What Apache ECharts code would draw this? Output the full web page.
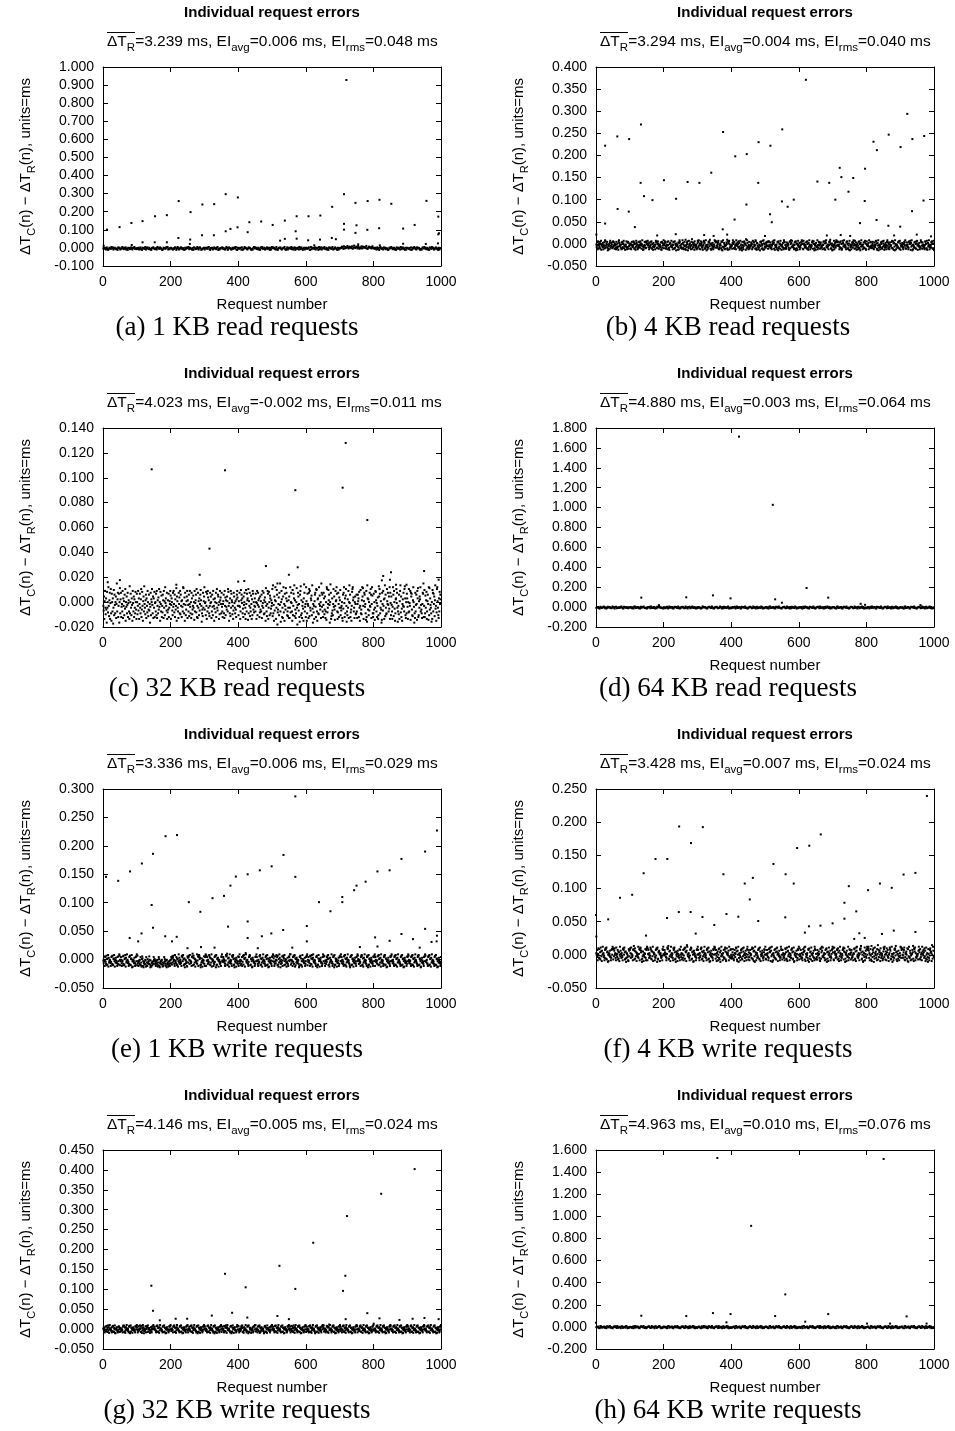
<!DOCTYPE html>
<html><head><meta charset="utf-8">
<script src="https://cdn.jsdelivr.net/npm/echarts@6/dist/echarts.min.js"></script>
<style>html,body{margin:0;padding:0;background:#fff}#c{width:955px;height:1431px}</style>
</head><body><div id="c"></div>
<script>
// ---------------- data ----------------
const captions = ['(a) 1 KB read requests','(b) 4 KB read requests','(c) 32 KB read requests','(d) 64 KB read requests',
                  '(e) 1 KB write requests','(f) 4 KB write requests','(g) 32 KB write requests','(h) 64 KB write requests'];
const dtR   = ['3.239','3.294','4.023','4.880','3.336','3.428','4.146','4.963'];
const eiAvg = ['0.006','0.004','-0.002','0.003','0.006','0.007','0.005','0.010'];
const eiRms = ['0.048','0.040','0.011','0.064','0.029','0.024','0.024','0.076'];
const yMin  = [-0.1,-0.05,-0.02,-0.2,-0.05,-0.05,-0.05,-0.2];
const yMax  = [1.0,0.4,0.14,1.8,0.3,0.25,0.45,1.6];
const yStep = [0.1,0.05,0.02,0.2,0.05,0.05,0.05,0.2];
const xTicks = [0,200,400,600,800,1000];

// dense error band around zero, one letter per request (a..z = level index, upper case = half level higher),
// read as base + level*step
const noiseBase   = [-0.023,-0.0158,-0.018,-0.029,-0.0148,-0.0118,-0.01165,-0.027];
const noiseStep   = [0.002,0.0012,0.0015,0.0025,0.0012,0.0012,0.0011,0.0025];
const noiseStride = [2,1,1,2,1,1,1,2];

const noiseA = [
"kmjlhnkgimljoknhlmjikgnlmhjkolimjnhkgmlijnkhmlojki","ljmhknigmlkjohlnkimjhglmnkijlhomkjnlighmkljnmohkil",
"mkihljnmgkolhjmnkilhgmjknloimkjhlgnmikjolhmnkgijlm","hlmkjnoiglkmhjnlkimogjhlkmnjlihkomgjnlkhimjlnkohgm",
"kjlmhngikomljhknmligjhmoknljimhkgnlojkmhilnjkmglho","lnkmjhoigkmlnjhklmoigjnhkmljoimhkngljkmhoilnjgkmhl",
"mjklnhgoimkljnhkmlgoijnhmklojimhkgnlmjkohilnkjgmhl","kmlpnjqkolmrnkpmolqjnsmlpokrmjnlqkpmonlrkjmpolnkqm",
"ljmkhnilgmokjlhnkmiljghmknolijmhkgnljmkhoilnjkgmhl","mkjlhngimkoljhnkmligjhmnkoljimhkgnljokmhilnjkgmhlk"].join('');
const noiseB = [
"mhkqdsflojgrentckmiphdlqjfusgkomrhbeljndqtgkpimfrhs","jqlenkgdrmhfoicsupjlkgmdqerhnotfjkclmisgdqhrpejklno",
"fdmrkjhlsqeongcitpkmdfhrjlqgsnkoemuicjdhlrkqfgspnmt","lhodqjgkmrsfenicpkhljdmtrqgfnsokeilmhjqdcrgpknuflos",
"qjehmkrdlsfgcnopiktjhmdlrqefsgnkbojmlchqdpurkgimfne","upgmdkrjevclhqnsbiftmkogjdrlweqhnpkcsmgiljdfotrhuke",
"oldsnjqhgckmtrpefiulbkhdmgrqsjvneocklfpidhmjutgqrsk","gjnqtedhlmokfscrbiuhgpmdjkelqnvfcsrotdmhgkijlepuqnf",
"rehkmduoljqngsipcftkemhbrlgdjqsnomcwkfupihdlregjkmq","kndgthrqmjleusfcopkidhgmlbrjqsenkftcuodmihgplrjkqes",
"siljqfhmgdkrnotpeuclhjkmgdrqbsfinoetlkcjmhpgdurqfle","heqmjkolgdcrsfnupithjkmgdlqersbnfocktmjhpdiglqrunse",
"dtmokgjlhqresnfcpiumkdhgljqrteosnbfkmcpjhiudlgrqkme","nqgjhkdmlrsefoctpuikhgmjdlrqsvnefkobcjmhtdlpigrukqs",
"lkrjmdhqgsfnceotpikulmhjgdqrsnefkoctbmhjdilprgqukne","tlfqjcmhodkrgsenbpiuljkdmhqfgrtoecnslkmjpduhigqrkf",
"ignrkfdjqmhltsoecpkubglmjdhqnrfesiotkcmgjpldhrukqe","nhdmqjlkgrtfesocpibunkdlmgjhqrsfetockilmpjgdhnrqku",
"felkqjmhdgrsontcpiukbldmjhqgrfnesotkcmlipjdghurqke","qkmhgjdlsrnfetcopikumdhljgqrsnefotbckmjihpldgrqkue"].join('');
const noiseC = [
"kHpdMsjFoibRjmGukEnrdLtgcQmhoAjSfqKgmpDlwhNrekQbmT","gNreJlhsDokMfqItcmJpgKreLnhdUgmQjfoKcsLhpeNjgRmidQ",
"mFksHodlQjgNteiRkcMphUljFnqDokGsmEiqHlbJrfNmtKgpDo","jReLmhQfsDkngOitJmcRlhPekGqnDsjMfuLokHrdGniQejMlsP",
"dKomHfrJslGqeNikTcpMjhDrlOgsFqkMenJhuTlgOcrKfiMpsD","nKhqElsJgmDroFikPjmCshLnqGtekDrjMfoHlqSnkBgiErjMpu",
"iLmfRkdQhsOjngEkrLpmDhqJfsNkcIomGreLtjHqpKdmFsnOlg","rJhelMqgDskOfnJipMhtRkcLgoEsjQnmFkdHrpLjgMieNqsOkx",
"fMkrJdhSnqLogIepKmrFjdSlhQnoCtgMkrEjhPldNfsQimGkoJ","hQmdLsfKrnJoeGpiMhqDksLjrFngOmcTkhElsQdjRmfPogInkL",
"tEvgKcpHnuMdjSqaGilOfrKwhBmsNejDpuGlcQkiTorMfhEjnD","pDjuGmrLhcSfkQovEniDgmTjaKrpHleBqsUfngDkmIcoVrhJle",
"uMcgQlkDrtEsjHonPfvIblGkdMqrJetShcNogFulPkimDwrJqh","eKroFipDhmCutGjlSnqKbmVrdEgoHfltJpiCksMnuQhdGrleOj",
"nSfjHkmDcqIruLeogPtkBhfNjsDmvLqeGickRtunOhjDmplFgq","hDlqMoeRjckSgiFnupTkdMrqJlgCseBvoiNfmHrkJtqDluPge",
"gQimCjsRnhLekOdfUptQgjMibCrlHskNdovEqjFgtMlrKhpIud","rLfpKhdJuqEsmIcgNotLrjBhkFqdMsvGpeIclNkrJhtUofDmgQ",
"oJdmGthLksCrpQifEnumJbgDrhKqlCsoTefMjpNuhKigDlrQwe","kSegPjnRdhMqlCufTioKjgBmdSrhQlpEnvIkcGtuMjfDohRlqN"].join('');
const noiseD = [
"jlkmhgnkijlomhkgjnlkmihjoklgmnhjkiljmokhgnlkjmihlk","kmjhlgnoikjmlhkgnjmlokihjgmklnhojkimlgjhnkmolikjhg",
"lkhjmngiokljmhgknlmjiohkgljnmkhiojlgkmnhjlokimjgkh","mjlkhgionkmljhgkmnljiokhgjmlnkhijolkgmhnjlkimogjhk",
"hkmjlngkoijlmhgnkmljoikhgjlnmkhiojlkgmnhjkliomgjhk","jmkhlgnoikjlmhkgnmljokihgjlmnkhiojlkgmhnjlkiomgjhk",
"kljmhgnikomjlhkgnmljiokhgjlmnkhoijlkgmhnjlokimgjhl","lmkjhgnoikjlmhgknmljoikhgjlnmkhiojlkgmnhjlkoimgjhk",
"hjmkglniokjlmhgnkmljiokhgjlnmkhoijlkgmnhjlkoimgjhk","mkjlhgnoikjmlhgknmljoikhgjlmnkhiojlkgmnhjkloimgjhl"].join('');
const noiseE = [
"lhrkdmqjgsenfotcpikmlhdjqrgsfenotkcmiplhjdqgrkfusme","kqmhdjlrgsefnotcpikumlhjdgqrsfenotbkcmjlhpidgqrkues",
"hkdjlgmfqeicnrodkbhjfgmlcqeidnhjkgrmfbldchiejgkqmln","gjdkhlfmcieqndbhjkglmfcidehqjnkgdlbmfhicjekgdlmhqnf",
"ripskmgdtjlhqeofnckuiplgmjhdrsqktnefobgmlhjdcrpiqs","mgtlkhjdqrvepsfoincmkjhuglrdqtsnpebfiokcjmhlrgdqsu",
"dslqkgmhjtrfpeoiucnmkldhgqjsrbtefnoplckmighjdrqulk","jqnmkhdgltrsvefoipckuhmjlgdsqrtnefbokimcplhjgrdqku",
"hmeklgqdjrsftoncpwukilmhgdjqrtsefnokbcpmlijhdgqrku","qlkgdmhjrsteofnicpkumhljgdqrsnetfobkcmipjhlgdrqkus",
"ojdgrkhmtlqesfcniupkbgmjhrdlsqoetkfnmicjhpgdlrqkum","ufmhlkdqjsgrtcoenipkhjmlgbdqrsfoekctnmjlhipdgkqrsu",
"emjqklhdsrgoftncpukimjlhgdqrsbefotknclmpjhidgqurks","rhdlkgmjqsnteofcipkmluhjdgqsrbtefoknmcjhilpdgrqsku",
"kqhmlgjdrsftoencipkumjlhgdbqrsetfnokcmihlpjgdqrkus","nlgkmhjdqrtsefocipkumjhlgdqsrbetfnokcimplhjgdrqksu",
"dqmjkhlgrsetnfoipcukmhjldgqsrtefonbkcmiplhjgdrqksu","lkhmjgdqsrftenocpiukmlhjgdqrsetfnobkcmpilhjdgrqkus",
"mhjklgdqrsfteoncipkumljhgdqsrtefnokbcmiplhjgdqrkus","kjlmhgdqrsetfnocpiukmhljgdqrsftenobkcmiplhjdgqrksu"].join('');
const noiseF = [
"mkhqdlsjgrfnetoicpkulmhjdgqsrftenobkcmjlphidgqrkuse","ripskmgdtjlhqeofnckuiplgmjhdrsqktnefobgmlhjdcrpiqs",
"mgtlkhjdqrvepsfoincmkjhuglrdqtsnpebfiokcjmhlrgdqsu","dslqkgmhjtrfpeoiucnmkldhgqjsrbtefnoplckmighjdrqulk",
"jqnmkhdgltrsvefoipckuhmjlgdsqrtnefbokimcplhjgrdqku","hmeklgqdjrsftoncpwukilmhgdjqrtsefnokbcpmlijhdgqrku",
"qlkgdmhjrsteofnicpkumhljgdqrsnetfobkcmipjhlgdrqkus","tlfqjcmhodkrgsenbpiuljkdmhqfgrtoecnslkmjpduhigqrkf",
"ignrkfdjqmhltsoecpkubglmjdhqnrfesiotkcmgjpldhrukqe","nhdmqjlkgrtfesocpibunkdlmgjhqrsfetockilmpjgdhnrqku",
"felkqjmhdgrsontcpiukbldmjhqgrfnesotkcmlipjdghurqke","qkmhgjdlsrnfetcopikumdhljgqrsnefotbckmjihpldgrqkue",
"siljqfhmgdkrnotpeuclhjkmgdrqbsfinoetlkcjmhpgdurqfle","heqmjkolgdcrsfnupithjkmgdlqersbnfocktmjhpdiglqrunse",
"dtmokgjlhqresnfcpiumkdhgljqrteosnbfkmcpjhiudlgrqkme","nqgjhkdmlrsefoctpuikhgmjdlrqsvnefkobcjmhtdlpigrukqs",
"upgmdkrjevclhqnsbiftmkogjdrlweqhnpkcsmgiljdfotrhuke","oldsnjqhgckmtrpefiulbkhdmgrqsjvneocklfpidhmjutgqrsk",
"gjnqtedhlmokfscrbiuhgpmdjkelqnvfcsrotdmhgkijlepuqnf","rehkmduoljqngsipcftkemhbrlgdjqsnomcwkfupihdlregjkmq"].join('');
const noiseG = [
"mkoldhqjgrsfnetipckumlhjodgqrsfenktbcmjlphidgqrkoe","nlgkmhjdqrtsefocipkumjhlgdqsrbetfnokcimplhjgdrqksu",
"ojdgrkhmtlqesfcniupkbgmjhrdlsqoetkfnmicjhpgdlrqkum","lmqjkhdgsrtenfocpiukmlhjgdqrsetfonbkcmpiljhdgrqksu",
"kgmlhjdqrsteofncipukmljhgdqrsetfnobkcmiplhjgdqrksu","hdkmqljgrsfteoncipkumljhgdqrsbetfnokcmiplhjdgqrkus",
"qkmhlgjdrstfeonicpkumjlhgdqsrbtefnokcmilphjdgqrkus","emjqklhdsrgoftncpukimjlhgdqrsbefotknclmpjhidgqurks",
"rhdlkgmjqsnteofcipkmluhjdgqsrbtefoknmcjhilpdgrqsku","ufmhlkdqjsgrtcoenipkhjmlgbdqrsfoekctnmjlhipdgkqrsu",
"jlqmhkdgsrtfenocipukmhljgdqrsetfnobkcmpjlihdgrqksu","mkhqdlsjgrfnetoicpkulmhjdgqsrftenobkcmjlphidgqrkuse",
"kqhmlgjdrsftoencipkumjlhgdbqrsetfnokcmihlpjgdqrkus","ntflhmkdjgsqreocpvikulmhdjgqsrtefnobkcmiplhjgdrqku",
"gqmkldhjrstfeonicpukmlhjgdqrstefnobkcmiplhjgdqrkus","sdkmhlgjqrtfeonpcikumhljgdqsrtefnobkcmiplhjdgqrkux",
"hkmljdgqsrtfenocpikumhljgdqrsteofnbkcmpilhjgdqrkus","lmhkgjdqrsftenocpikumlhjdgqrsetfnobkcmiplhjgdqrkus",
"qglkmhdjrstfeonpcikumlhjdgqsrtefnobkcmiplhjgdrqkus","kmhljgdqrsfteoncpiukmlhjgdqrstefnobkcmiplhjdgqrkus"].join('');
const noiseH = [
"kjmlhgonikjlmhkgnmjloikhgjmlnkhoijlkgmnhjlkiomgjhk","ljkhmgniokjmlhgknmljoihkgjlmnkhiojklgmnhjlkomigjhl",
"mkjlhgnoikljmhgknmjloikhgjmlnkhiojlkgmhnjlkoimgjkh","jlmkhgnikojlmhkgnmljiokhgjlmnkhoijlkgmnhjlkoimgjhk",
"hjkmlgnoikjlmhgknmljoikhgjlnmkhiojlkgmnhjlkoimgjhl","kmljhgnoikjlmhgknmjloikhgjlmnkhiojlkgmnhjlkoimgjhk",
"ljhkmgnoikjlmhgknmljoikhgjlmnkhoijlkgmnhjlkoimgjhk","mjkhlgnoikjlmhgknmljoikhgjlnmkhiojlkgmnhjlkoimgjhk",
"klmjhgnoikjlmhgknmljoikhgjlmnkhiojlkgmnhjlkoimgjhl","jkmlhgnoikjlmhgknmljoikhgjlmnkhiojlkgmnhjlkoimgjhk"].join('');

// isolated points [request number, error ms]
const outA = [[2,0.012],[12,0.101],[49,0.115],[84,0.138],[85,0.016],[117,0.148],[117,0.031],[153,0.031],[154,0.175],[189,0.181],[189,0.031],[223,0.055],[224,0.259],[257,0.022],[258,0.046],[259,0.198],[293,0.070],[294,0.240],[328,0.070],[329,0.242],[363,0.297],[363,0.092],[377,0.105],[398,0.114],[399,0.279],[428,0.087],[433,0.142],[468,0.146],[502,0.127],[524,0.040],[538,0.050],[538,0.151],[570,0.092],[573,0.051],[573,0.175],[607,0.042],[608,0.175],[625,0.014],[642,0.046],[643,0.179],[677,0.055],[678,0.227],[689,0.048],[713,0.297],[713,0.133],[713,0.101],[720,0.928],[747,0.249],[747,0.083],[750,0.125],[755,0.020],[782,0.100],[783,0.259],[817,0.109],[818,0.266],[819,0.014],[853,0.244],[888,0.107],[888,0.023],[922,0.127],[955,0.022],[957,0.260],[991,0.025],[992,0.173],[992,0.075],[994,0.081]];
const outB = [[1,0.021],[27,0.222],[27,0.046],[63,0.243],[64,0.079],[97,0.073],[98,0.237],[115,0.038],[132,0.138],[133,0.270],[142,0.108],[167,0.099],[181,0.019],[201,0.144],[236,0.022],[237,0.102],[271,0.140],[306,0.138],[320,0.020],[341,0.161],[348,0.018],[375,0.033],[376,0.253],[388,0.021],[410,0.055],[412,0.198],[445,0.089],[446,0.203],[480,0.138],[481,0.230],[500,0.018],[515,0.067],[516,0.222],[520,0.049],[550,0.096],[551,0.259],[567,0.084],[585,0.100],[621,0.371],[655,0.141],[683,0.019],[690,0.138],[708,0.100],[721,0.172],[724,0.020],[726,0.151],[747,0.118],[752,0.018],[761,0.149],[781,0.047],[795,0.097],[796,0.170],[821,0.231],[830,0.054],[831,0.212],[865,0.041],[866,0.247],[882,0.019],[900,0.039],[901,0.219],[921,0.294],[935,0.074],[936,0.237],[949,0.021],[969,0.098],[971,0.244],[991,0.017]];
const outC = [[14,0.016],[50,0.0177],[144,0.1068],[217,0.014],[286,0.022],[315,0.043],[361,0.106],[418,0.017],[482,0.029],[516,0.015],[550,0.022],[569,0.090],[576,0.028],[709,0.092],[718,0.128],[782,0.066],[825,0.0175],[829,0.021],[849,0.018],[852,0.024],[867,0.014],[898,0.014],[950,0.025],[993,0.018]];
const outD = [[134,0.095],[186,0.02],[267,0.098],[346,0.118],[398,0.088],[423,1.713],[523,1.028],[530,0.078],[550,0.044],[623,0.192],[687,0.095],[783,0.033],[796,0.023],[960,0.02]];
const outE = [[9,0.1455],[45,0.1385],[79,0.038],[80,0.155],[104,0.032],[114,0.046],[115,0.169],[144,0.096],[148,0.186],[148,0.056],[184,0.041],[185,0.217],[204,0.032],[218,0.040],[219,0.219],[250,0.020],[254,0.101],[288,0.084],[290,0.022],[324,0.108],[330,0.021],[358,0.112],[370,0.058],[377,0.130],[393,0.146],[428,0.150],[428,0.067],[428,0.038],[458,0.020],[464,0.157],[470,0.041],[498,0.046],[499,0.164],[533,0.052],[534,0.184],[560,0.021],[569,0.287],[569,0.1455],[603,0.059],[603,0.032],[639,0.101],[673,0.085],[708,0.110],[708,0.101],[743,0.122],[750,0.130],[760,0.022],[777,0.137],[805,0.039],[812,0.155],[812,0.023],[848,0.157],[848,0.033],[883,0.177],[883,0.045],[917,0.036],[937,0.021],[953,0.190],[953,0.054],[972,0.031],[987,0.032],[988,0.227],[988,0.042]];
const outF = [[0,0.060],[1,0.0275],[36,0.0535],[71,0.086],[107,0.0905],[141,0.123],[148,0.029],[176,0.1445],[210,0.0555],[211,0.1445],[245,0.0645],[246,0.1935],[280,0.0645],[281,0.1685],[295,0.032],[315,0.057],[316,0.1925],[350,0.045],[377,0.1215],[386,0.0615],[421,0.0575],[440,0.1075],[455,0.0835],[464,0.116],[480,0.051],[525,0.137],[560,0.0565],[561,0.1215],[585,0.1075],[595,0.161],[618,0.0335],[630,0.043],[631,0.1645],[664,0.044],[665,0.1815],[700,0.0475],[735,0.0785],[735,0.0545],[748,0.1035],[764,0.024],[770,0.0655],[779,0.0325],[795,0.0255],[805,0.0975],[840,0.1075],[846,0.0315],[875,0.101],[881,0.0365],[910,0.121],[945,0.1235],[945,0.0345],[979,0.2395]];
const outG = [[143,0.109],[148,0.046],[168,0.022],[215,0.026],[249,0.026],[322,0.034],[361,0.139],[382,0.041],[422,0.105],[427,0.029],[516,0.033],[522,0.159],[550,0.025],[569,0.101],[622,0.217],[710,0.096],[717,0.134],[718,0.025],[722,0.284],[782,0.040],[818,0.027],[823,0.340],[877,0.023],[916,0.026],[922,0.402],[951,0.028],[993,0.025]];
const outH = [[0,0.038],[134,0.101],[267,0.098],[346,0.125],[359,1.528],[386,0.041],[398,0.116],[459,0.914],[530,0.098],[560,0.294],[619,0.047],[687,0.116],[802,0.03],[851,1.519],[870,0.03],[919,0.095],[978,0.03]];

const noiseStrings = [noiseA,noiseB,noiseC,noiseD,noiseE,noiseF,noiseG,noiseH];
const outliers = [outA,outB,outC,outD,outE,outF,outG,outH];

// ---------------- layout ----------------
const FONT = "'Liberation Sans', Arial, Helvetica, sans-serif";
const SERIF = "'Liberation Serif', 'Times New Roman', serif";
const PLOT_LEFT = 103, COL_DX = 493, PLOT_W = 338;
const PLOT_TOP = 67, ROW_DY = 361, PLOT_H = 199;

function decodeNoise(str, base, step, stride) {
  const out = []; let k = 0;
  for (const ch of str) {
    const lo = ch.toLowerCase();
    const idx = lo.charCodeAt(0) - 97;
    if (idx < 0 || idx > 25) continue;
    const lvl = idx + (ch !== lo ? 0.5 : 0);
    out.push([1 + k * stride, +(base + lvl * step).toFixed(5)]);
    k++;
  }
  return out;
}

const richStyles = {
  m: {fontSize: 15.5, fontFamily: FONT, fill: '#000', color: '#000', lineHeight: 24, verticalAlign: 'middle'},
  s: {fontSize: 11.5, fontFamily: FONT, fill: '#000', color: '#000', verticalAlign: 'bottom'}
};
const yRich = {
  m: {fontSize: 15, fontFamily: FONT, color: '#000', lineHeight: 22, verticalAlign: 'middle'},
  s: {fontSize: 11, fontFamily: FONT, color: '#000', verticalAlign: 'bottom'}
};

const grids = [], xAxes = [], yAxes = [], series = [], graphics = [];
const lineStyle = {color: '#000', width: 1};
for (let i = 0; i < 8; i++) {
  const r = Math.floor(i / 2), c = i % 2;
  const left = PLOT_LEFT + c * COL_DX, top = PLOT_TOP + r * ROW_DY;
  grids.push({left: left, top: top, width: PLOT_W, height: PLOT_H, show: false});
  const xc = {gridIndex: i, type: 'value', min: xTicks[0], max: xTicks[xTicks.length - 1], interval: xTicks[1] - xTicks[0],
    axisLine: {show: true, onZero: false, lineStyle: lineStyle},
    axisTick: {show: true, inside: true, length: 5, lineStyle: lineStyle}, splitLine: {show: false}};
  xAxes.push(Object.assign({}, xc, {position: 'bottom',
    axisLabel: {show: true, color: '#000', fontSize: 14, fontFamily: FONT, margin: 9, formatter: v => String(Math.round(v))},
    name: 'Request number', nameLocation: 'middle', nameGap: 31,
    nameTextStyle: {color: '#000', fontSize: 15, fontFamily: FONT}}));
  xAxes.push(Object.assign({}, xc, {position: 'top', axisLabel: {show: false}}));
  const yc = {gridIndex: i, type: 'value', min: yMin[i], max: yMax[i], interval: yStep[i],
    axisLine: {show: true, onZero: false, lineStyle: lineStyle},
    axisTick: {show: true, inside: true, length: 5, lineStyle: lineStyle}, splitLine: {show: false}};
  yAxes.push(Object.assign({}, yc, {position: 'left',
    axisLabel: {show: true, color: '#000', fontSize: 14, fontFamily: FONT, margin: 9,
      formatter: v => Math.abs(v) < 1e-9 ? '0.000' : v.toFixed(3)},
    name: '{m|ΔT}{s|C}{m|(n) − ΔT}{s|R}{m|(n), units=ms}', nameLocation: 'middle', nameRotate: 90, nameGap: 66,
    nameTextStyle: {color: '#000', fontSize: 15, fontFamily: FONT, rich: yRich}}));
  yAxes.push(Object.assign({}, yc, {position: 'right', axisLabel: {show: false}}));

  const data = decodeNoise(noiseStrings[i], noiseBase[i], noiseStep[i], noiseStride[i]).concat(outliers[i]);
  series.push({type: 'scatter', xAxisIndex: 2 * i, yAxisIndex: 2 * i, data: data,
    symbol: 'rect', symbolSize: 2, itemStyle: {color: '#000', opacity: 1}, silent: true, animation: false});

  const cx = left + PLOT_W / 2;
  graphics.push({type: 'text', x: cx, y: 13 + r * ROW_DY, silent: true,
    style: {text: 'Individual request errors', font: 'bold 15px ' + FONT, fill: '#000', align: 'center', verticalAlign: 'middle'}});
  const sx = 107 + c * COL_DX, sy = 42 + r * ROW_DY;
  graphics.push({type: 'text', x: sx, y: sy, silent: true,
    style: {text: '{m|ΔT}{s|R}{m|=' + dtR[i] + ' ms, EI}{s|avg}{m|=' + eiAvg[i] + ' ms, EI}{s|rms}{m|=' + eiRms[i] + ' ms}',
      rich: richStyles, fill: '#000', font: '15.5px ' + FONT, align: 'left', verticalAlign: 'middle'}});
  graphics.push({type: 'line', silent: true, shape: {x1: sx, y1: 32.5 + r * ROW_DY, x2: sx + 28, y2: 32.5 + r * ROW_DY},
    style: {stroke: '#000', lineWidth: 1}});
  graphics.push({type: 'text', x: 237 + c * 491, y: 328 + r * ROW_DY, silent: true,
    style: {text: captions[i], font: '27px ' + SERIF, fill: '#000', align: 'center', verticalAlign: 'middle'}});
}

const chart = echarts.init(document.getElementById('c'), null, {renderer: 'canvas'});
chart.setOption({
  animation: false,
  backgroundColor: '#fff',
  grid: grids, xAxis: xAxes, yAxis: yAxes, series: series, graphic: graphics
});
</script></body></html>
